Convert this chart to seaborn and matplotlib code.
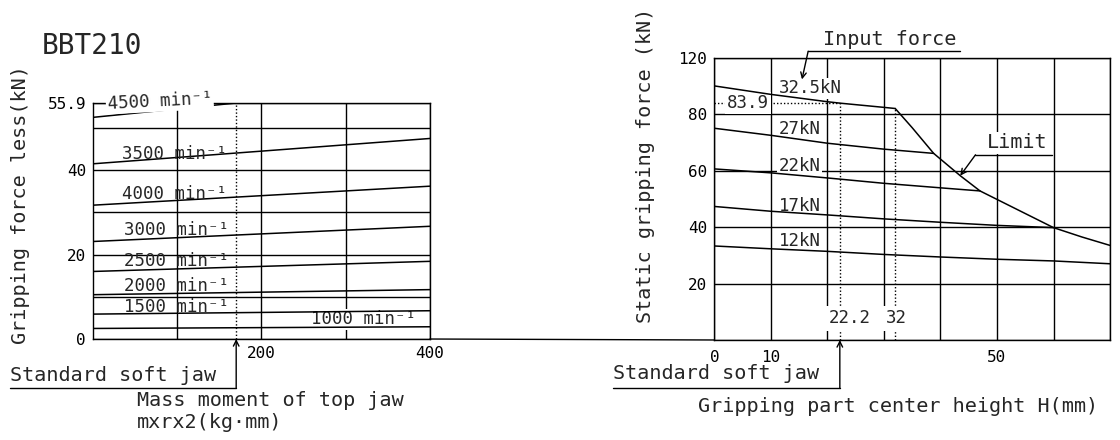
import numpy as np
import pandas as pd
import matplotlib.pyplot as plt
import seaborn as sns
from matplotlib.transforms import blended_transform_factory
from matplotlib.patches import ConnectionPatch

# ---- left chart: gripping force loss vs mass moment of top jaw
speeds = ['4500', '3500', '4000', '3000', '2500', '2000', '1500', '1000']
mass_start = [0, 0, 0, 0, 0, 0, 0, 0]
mass_end = [170, 400, 400, 400, 400, 400, 400, 400]
loss_start = [52.5, 41.5, 31.7, 23.1, 16.0, 10.5, 5.9, 2.5]
loss_end = [55.9, 47.5, 36.2, 26.7, 18.4, 11.7, 6.7, 2.9]
std_jaw_mass = 170
loss_max = 55.9

# ---- right chart: static gripping force vs gripping part center height
h_325 = [0, 10, 20, 22.2, 30, 32]
f_325 = [90.0, 87.0, 84.4, 83.9, 82.4, 82.0]
h_27 = [0, 10, 20, 30, 38.8]
f_27 = [75.0, 72.5, 69.7, 67.6, 66.1]
h_22 = [0, 10, 20, 30, 40, 47]
f_22 = [60.6, 59.2, 57.4, 55.5, 53.9, 52.8]
h_17 = [0, 10, 20, 30, 40, 50, 60]
f_17 = [47.3, 45.6, 44.3, 42.9, 41.7, 40.6, 39.8]
h_12 = [0, 10, 20, 30, 40, 50, 60, 70]
f_12 = [33.3, 32.3, 31.4, 30.3, 29.4, 28.6, 28.0, 27.0]
h_lim = [32, 35, 38.8, 43.5, 47, 50, 55, 60, 65, 70]
f_lim = [82.0, 75.2, 66.1, 58.2, 52.8, 49.8, 44.8, 39.8, 36.5, 33.5]
input_labels = ['32.5kN', '27kN', '22kN', '17kN', '12kN']
label_y = [89.2, 74.9, 61.7, 47.6, 34.9]
std_jaw_h = 22.2
limit_h = 32
grip_std = 83.9

sns.set_style('white')
plt.rcParams['font.family'] = ['DejaVu Sans Mono', 'DejaVu Sans']
BIG = 14.5
MID = 12.5
SMALL = 11.5
white = dict(facecolor='white', edgecolor='none', pad=1)

rows = []
for s, x0, x1, y0, y1 in zip(speeds, mass_start, mass_end, loss_start, loss_end):
    rows.append((s, x0, y0))
    rows.append((s, x1, y1))
df_left = pd.DataFrame(rows, columns=['speed', 'mass', 'loss'])

series = {'32.5': (h_325, f_325), '27': (h_27, f_27), '22': (h_22, f_22),
          '17': (h_17, f_17), '12': (h_12, f_12), 'limit': (h_lim, f_lim)}
rows = []
for k, (hs, fs) in series.items():
    for h, f in zip(hs, fs):
        rows.append((k, h, f))
df_right = pd.DataFrame(rows, columns=['input', 'height', 'force'])

fig = plt.figure(figsize=(11.2, 4.4), dpi=100)
ax1 = fig.add_axes([0.0830, 0.2295, 0.3009, 0.5364])
ax2 = fig.add_axes([0.6378, 0.2273, 0.3533, 0.6416])

for ax in (ax1, ax2):
    for sp in ax.spines.values():
        sp.set_color('black')
        sp.set_linewidth(1.0)
    ax.tick_params(length=0, labelsize=SMALL, colors='black')
    ax.grid(True, color='black', lw=1.0)
    ax.set_axisbelow(True)

# left
sns.lineplot(data=df_left, x='mass', y='loss', units='speed', estimator=None,
             color='black', lw=1.1, ax=ax1, legend=False, zorder=2)
ax1.set_xlim(0, 400)
ax1.set_ylim(0, loss_max)
ax1.set_xticks([100, 200, 300, 400])
ax1.set_xticklabels(['', '200', '', '400'])
ax1.set_yticks([0, 10, 20, 30, 40, 50, loss_max])
ax1.set_yticklabels(['0', '', '20', '', '40', '', '55.9'])
ax1.tick_params(axis='x', pad=5)
ax1.tick_params(axis='y', pad=5)
ax1.set_xlabel('')
ax1.set_ylabel('Gripping force less(kN)', fontsize=BIG)
ax1.yaxis.set_label_coords(-0.187, 0.57)
ax1.plot([std_jaw_mass, std_jaw_mass], [0, loss_max], color='black',
         lw=1.0, ls=(0, (1, 1.5)), zorder=1)

lab_pos = {'4500': (142, 56.3), '3500': (159, 43.8), '4000': (159, 34.3),
           '3000': (162, 25.9), '2500': (162, 18.4), '2000': (162, 12.5),
           '1500': (162, 7.6), '1000': (384, 4.7)}
for s in speeds:
    x, y = lab_pos[s]
    kw = {}
    if s == '4500':
        kw = dict(bbox=white, zorder=3, rotation=3)
    elif s == '1000':
        kw = dict(bbox=white, zorder=1.5)
    ax1.text(x, y, f'{s} min⁻¹', ha='right', va='center', fontsize=MID, **kw)

# right
sns.lineplot(data=df_right, x='height', y='force', units='input', estimator=None,
             color='black', lw=1.1, ax=ax2, legend=False, zorder=2)
ax2.set_xlim(0, 70)
ax2.set_ylim(0, 100)
ax2.set_xticks(range(0, 71, 10))
ax2.set_xticklabels(['0', '10', '', '', '', '50', '', ''])
ax2.set_yticks([0, 20, 40, 60, 80, 100])
ax2.set_yticklabels(['', '20', '40', '60', '80', '120'])
ax2.tick_params(axis='x', pad=7)
ax2.tick_params(axis='y', pad=5)
ax2.set_xlabel('')
ax2.set_ylabel('Static gripping force (kN)', fontsize=BIG)
ax2.yaxis.set_label_coords(-0.15, 0.62)

for lab, y in zip(input_labels, label_y):
    ax2.text(11.4, y, lab, ha='left', va='center', fontsize=MID,
             bbox=white, zorder=1.5)

dots = (0, (1, 1.5))
ax2.plot([0, std_jaw_h], [grip_std, grip_std], color='black', lw=1.0, ls=dots, zorder=1)
ax2.plot([std_jaw_h, std_jaw_h], [0, grip_std], color='black', lw=1.0, ls=dots, zorder=1)
ax2.plot([limit_h, limit_h], [0, f_lim[0]], color='black', lw=1.0, ls=dots, zorder=1)
ax2.text(6.0, grip_std, '83.9', ha='center', va='center', fontsize=MID,
         bbox=dict(facecolor='white', edgecolor='none', pad=1.5), zorder=1.5)
ax2.text(20.3, 7.7, '22.2', ha='left', va='center', fontsize=MID,
         bbox=dict(facecolor='white', edgecolor='none', pad=2.5), zorder=1.5)
ax2.text(30.3, 7.7, '32', ha='left', va='center', fontsize=MID,
         bbox=dict(facecolor='white', edgecolor='none', pad=2.5), zorder=1.5)

# callouts
ax2.text(19.2, 106.5, 'Input force', ha='left', va='center', fontsize=BIG)
ax2.plot([16.6, 43.5], [102.3, 102.3], color='black', lw=1.0, clip_on=False)
ax2.annotate('', xy=(15.5, 92.3), xytext=(16.6, 102.3), annotation_clip=False,
             arrowprops=dict(arrowstyle='->', color='black', lw=1.0,
                             shrinkA=0, shrinkB=0))
ax2.text(48.3, 69.8, 'Limit', ha='left', va='center', fontsize=BIG,
         bbox=white, zorder=1.5)
ax2.plot([46.2, 59.8], [65.6, 65.6], color='black', lw=1.0)
ax2.annotate('', xy=(43.5, 58.2), xytext=(46.2, 65.6),
             arrowprops=dict(arrowstyle='->', color='black', lw=1.0,
                             shrinkA=0, shrinkB=0))

# common baseline joining both charts
con = ConnectionPatch(xyA=(400, 0), coordsA=ax1.transData, xyB=(0, 0),
                      coordsB=ax2.transData, color='black', lw=1.0)
fig.add_artist(con)

# standard soft jaw markers
tr1 = blended_transform_factory(ax1.transData, fig.transFigure)
tr2 = blended_transform_factory(ax2.transData, fig.transFigure)
ul_y = 0.118
ax1.text(-98.5, 0.147, 'Standard soft jaw', transform=tr1, ha='left',
         va='center', fontsize=BIG)
ax1.plot([-98.5, std_jaw_mass], [ul_y, ul_y], transform=tr1, color='black',
         lw=1.0, clip_on=False)
ax1.annotate('', xy=(std_jaw_mass, 0), xytext=(std_jaw_mass, ul_y), textcoords=tr1,
             annotation_clip=False,
             arrowprops=dict(arrowstyle='->', color='black', lw=1.0,
                             shrinkA=0, shrinkB=0))
ax1.text(52, 0.089, 'Mass moment of top jaw', transform=tr1, ha='left',
         va='center', fontsize=BIG)
ax1.text(52, 0.039, 'mxrx2(kg·mm)', transform=tr1, ha='left',
         va='center', fontsize=BIG)

ax2.text(-18, 0.152, 'Standard soft jaw', transform=tr2, ha='left',
         va='center', fontsize=BIG)
ax2.plot([-18, std_jaw_h], [ul_y, ul_y], transform=tr2, color='black',
         lw=1.0, clip_on=False)
ax2.annotate('', xy=(std_jaw_h, 0), xytext=(std_jaw_h, ul_y), textcoords=tr2,
             annotation_clip=False,
             arrowprops=dict(arrowstyle='->', color='black', lw=1.0,
                             shrinkA=0, shrinkB=0))
ax2.text(-2.9, 0.077, 'Gripping part center height H(mm)', transform=tr2,
         ha='left', va='center', fontsize=BIG)

fig.text(0.0375, 0.895, 'BBT210', ha='left', va='center', fontsize=20)

fig.savefig('out.png', dpi=100)
